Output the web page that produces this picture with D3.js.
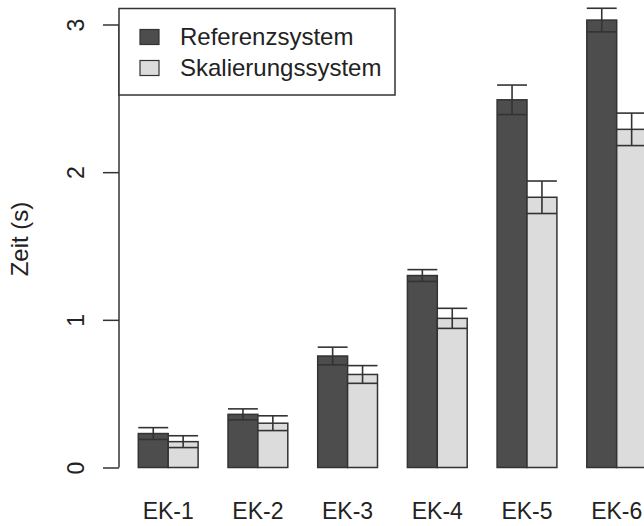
<!DOCTYPE html>
<html>
<head>
<meta charset="utf-8">
<script src="https://cdn.jsdelivr.net/npm/d3@7"></script>
<style>
  body { margin: 0; background: #fff; }
  svg { display: block; font-family: "Liberation Sans", Arial, sans-serif; }
</style>
</head>
<body>
<script>
const categories = ["EK-1", "EK-2", "EK-3", "EK-4", "EK-5", "EK-6"];
const seriesNames = ["Referenzsystem", "Skalierungssystem"];
const refMean = [0.23, 0.36, 0.755, 1.30, 2.49, 3.03];
const refErr = [0.04, 0.037, 0.06, 0.04, 0.10, 0.08];
const skaMean = [0.175, 0.30, 0.63, 1.01, 1.83, 2.29];
const skaErr = [0.04, 0.05, 0.06, 0.068, 0.11, 0.11];
const yTicks = [0, 1, 2, 3];
const colors = ['#4d4d4d', '#dcdcdd'];

const data = categories.map((c, i) => ({
    cat: c,
    values: [
        {s: seriesNames[0], mean: refMean[i], err: refErr[i]},
        {s: seriesNames[1], mean: skaMean[i], err: skaErr[i]}
    ]
}));

const width = 644, height = 526;
const svg = d3.select('body').append('svg')
    .attr('width', width)
    .attr('height', height);

const yScale = d3.scaleLinear().domain([0, 3]).range([467.5, 24.5]);

const xScale = d3.scaleBand()
    .domain(categories)
    .range([138.3, 646.6])
    .paddingInner(1 / 3)
    .paddingOuter(0);

const xSub = d3.scaleBand()
    .domain(seriesNames)
    .range([0, xScale.bandwidth()]);

const color = d3.scaleOrdinal().domain(seriesNames).range(colors);

// y axis
const yAxis = svg.append('g')
    .attr('transform', 'translate(119,0)')
    .call(d3.axisLeft(yScale).tickValues(yTicks).tickSize(16).tickPadding(0).tickFormat(d3.format('d')));
yAxis.select('.domain').attr('stroke', '#333').attr('stroke-width', 1.5)
    .attr('d', `M0,${yScale(3)}V${yScale(0)}`);
yAxis.selectAll('.tick line').attr('stroke', '#333').attr('stroke-width', 1.5);
yAxis.selectAll('.tick text')
    .attr('font-size', 23)
    .attr('fill', '#222')
    .attr('text-anchor', 'middle')
    .attr('transform', 'translate(-43,0) rotate(-90)')
    .attr('x', 0)
    .attr('dy', '0.35em');

svg.append('text')
    .attr('transform', 'translate(28,239) rotate(-90)')
    .attr('text-anchor', 'middle')
    .attr('font-size', 24)
    .attr('fill', '#222')
    .text('Zeit (s)');

// category labels
svg.append('g').selectAll('text')
    .data(categories)
    .enter()
    .append('text')
    .attr('x', d => xScale(d) + xScale.bandwidth() / 2)
    .attr('y', 519)
    .attr('text-anchor', 'middle')
    .attr('font-size', 23)
    .attr('fill', '#222')
    .text(d => d);

// bars
const groups = svg.append('g').selectAll('g')
    .data(data)
    .enter()
    .append('g')
    .attr('transform', d => `translate(${xScale(d.cat)},0)`);

groups.selectAll('rect')
    .data(d => d.values)
    .enter()
    .append('rect')
    .attr('x', d => xSub(d.s))
    .attr('width', xSub.bandwidth())
    .attr('y', d => yScale(d.mean))
    .attr('height', d => yScale(0) - yScale(d.mean))
    .attr('fill', d => color(d.s))
    .attr('stroke', '#333')
    .attr('stroke-width', 1.5);

// error bars
const eb = groups.selectAll('g.err')
    .data(d => d.values)
    .enter()
    .append('g')
    .attr('class', 'err')
    .attr('stroke', '#333')
    .attr('stroke-width', 1.6);

eb.append('line')
    .attr('x1', d => xSub(d.s) + xSub.bandwidth() / 2)
    .attr('x2', d => xSub(d.s) + xSub.bandwidth() / 2)
    .attr('y1', d => yScale(d.mean - d.err))
    .attr('y2', d => yScale(d.mean + d.err));
eb.append('line')
    .attr('x1', d => xSub(d.s))
    .attr('x2', d => xSub(d.s) + xSub.bandwidth())
    .attr('y1', d => yScale(d.mean + d.err))
    .attr('y2', d => yScale(d.mean + d.err));
eb.append('line')
    .attr('x1', d => xSub(d.s))
    .attr('x2', d => xSub(d.s) + xSub.bandwidth())
    .attr('y1', d => yScale(d.mean - d.err))
    .attr('y2', d => yScale(d.mean - d.err));

// legend
const legend = svg.append('g');
legend.append('rect')
    .attr('x', 119).attr('y', 8.5)
    .attr('width', 276).attr('height', 86.5)
    .attr('fill', '#fff')
    .attr('stroke', '#333')
    .attr('stroke-width', 1.5);

const items = legend.selectAll('g.item')
    .data(seriesNames)
    .enter()
    .append('g')
    .attr('class', 'item')
    .attr('transform', (d, i) => `translate(0,${37 + i * 31})`);
items.append('rect')
    .attr('x', 140).attr('y', -7.5)
    .attr('width', 19).attr('height', 15)
    .attr('fill', d => color(d))
    .attr('stroke', '#333')
    .attr('stroke-width', 1.2);
items.append('text')
    .attr('x', 180)
    .attr('dy', '0.35em')
    .attr('font-size', 24)
    .attr('fill', '#222')
    .text(d => d);
</script>
</body>
</html>
